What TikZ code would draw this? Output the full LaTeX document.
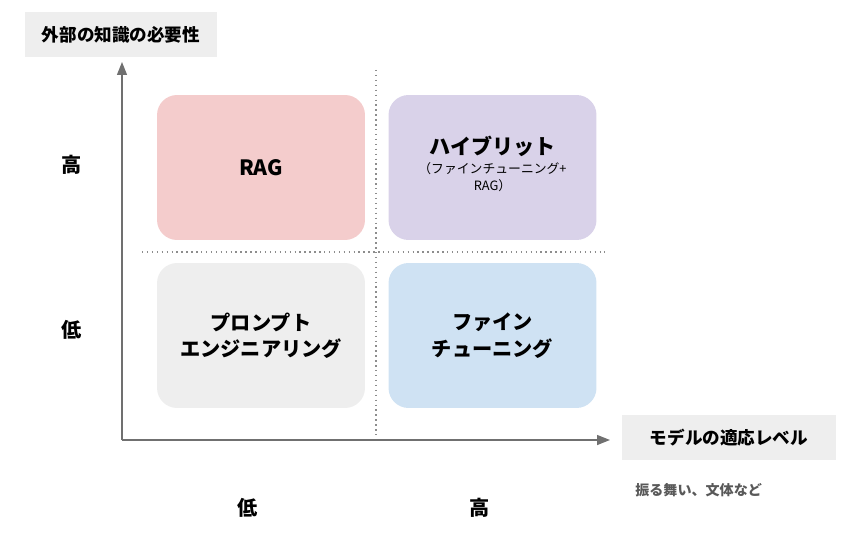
\documentclass[tikz,border=0pt]{standalone}
\usepackage{fontspec}
\setmainfont{Noto Sans CJK JP}
\usetikzlibrary{arrows.meta,positioning}
\definecolor{ragpink}{HTML}{F4CCCC}
\definecolor{hybpurple}{HTML}{D9D2E9}
\definecolor{promptgray}{HTML}{EEEEEE}
\definecolor{ftblue}{HTML}{CFE2F3}
\definecolor{axisgray}{HTML}{707070}
\definecolor{notegray}{HTML}{595959}
\newcommand{\subtxt}{\fontsize{7.3}{10}\selectfont\mdseries}
\tikzset{
  quadbox/.style={rectangle,rounded corners=0.4cm,minimum width=4.16cm,
    minimum height=2.9cm,align=center,inner sep=0pt,
    font=\fontsize{11.5}{15}\selectfont\bfseries},
  axislabel/.style={rectangle,fill=promptgray,minimum height=0.9cm,
    font=\fontsize{10}{12}\selectfont\bfseries},
  levelmark/.style={font=\fontsize{11.5}{13}\selectfont\bfseries},
  axisarrow/.style={-{Triangle[length=2.6mm,width=2mm]},thick,draw=axisgray},
  divider/.style={dotted,thick,draw=axisgray!80}
}
\begin{document}
\begin{tikzpicture}[x=0.02cm,y=-0.02cm]
  \useasboundingbox (0,0) rectangle (854,550);

  % quadrants
  \node[quadbox,fill=ragpink]    (rag)      at (261,167.5)   {\fontsize{12}{14}\selectfont RAG};
  \node[quadbox,fill=hybpurple]  (hybrid)   at (492.5,167.5) {};
  \node[font=\fontsize{12}{14}\selectfont\bfseries,inner sep=0pt] (hybtitle) at (492.5,146) {ハイブリット};
  \node[font=\subtxt,align=center,inner sep=0pt,below=3pt of hybtitle] (hybsub)
    {（ファインチューニング+\\RAG）};
  \node[quadbox,fill=promptgray] (prompt)   at (261,335.5)   {プロンプト\\エンジニアリング};
  \node[quadbox,fill=ftblue]     (finetune) at (492.5,335.5) {ファイン\\チューニング};

  % axes
  \coordinate (origin) at (122,440);
  \coordinate (ytip)   at (122,62);
  \coordinate (xtip)   at (610,440);
  \draw[axisarrow] (origin) -- (ytip);
  \draw[axisarrow] (origin) -- (xtip);

  % dividers
  \coordinate (vtop) at (376,70);
  \coordinate (vbot) at (376,436);
  \coordinate (hlft) at (142,252);
  \coordinate (hrgt) at (605,252);
  \draw[divider] (vtop) -- (vbot);
  \draw[divider] (hlft) -- (hrgt);

  % axis titles
  \node[axislabel,minimum width=3.84cm] (ylabel) at (121,34.5) {外部の知識の必要性};
  \node[axislabel,minimum width=4.28cm] (xlabel) at (729,437.5) {モデルの適応レベル};
  \node[font=\fontsize{8}{10}\selectfont\bfseries,text=notegray,anchor=west,inner sep=0pt]
    (note) at (635,490) {振る舞い、文体など};

  % levels
  \node[levelmark] (yhigh) at (72,165) {高};
  \node[levelmark] (ylow)  at (72,330) {低};
  \node[levelmark] (xlow)  at (248,508) {低};
  \node[levelmark] (xhigh) at (480,508) {高};
\end{tikzpicture}
\end{document}
